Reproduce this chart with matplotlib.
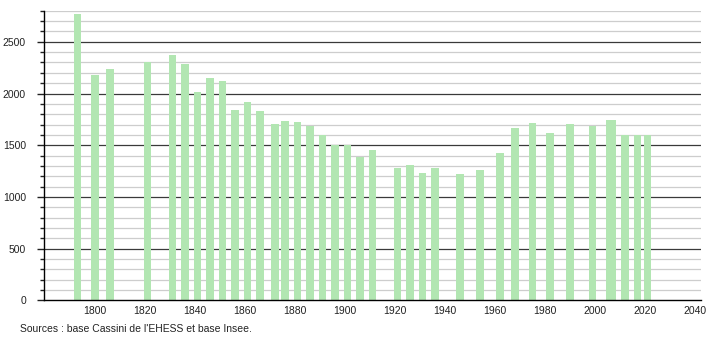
import matplotlib
matplotlib.use("Agg")
import matplotlib.pyplot as plt
from matplotlib.ticker import MultipleLocator

years = [1793, 1800, 1806, 1821, 1831, 1836, 1841, 1846, 1851, 1856, 1861, 1866,
         1872, 1876, 1881, 1886, 1891, 1896, 1901, 1906, 1911, 1921, 1926, 1931,
         1936, 1946, 1954, 1962, 1968, 1975, 1982, 1990, 1999, 2006, 2007, 2012,
         2017, 2021]
population = [2765, 2180, 2238, 2302, 2374, 2290, 2018, 2154, 2125, 1844, 1919, 1834,
              1708, 1734, 1725, 1689, 1597, 1502, 1502, 1386, 1456, 1282, 1305, 1233,
              1282, 1224, 1263, 1421, 1670, 1718, 1621, 1708, 1689, 1745, 1745, 1599,
              1599, 1599]
x_ticks = [1800, 1820, 1840, 1860, 1880, 1900, 1920, 1940, 1960, 1980, 2000, 2020, 2040]
y_ticks = [0, 500, 1000, 1500, 2000, 2500]
source_text = "Sources : base Cassini de l'EHESS et base Insee."

plt.rcParams['font.family'] = ['Liberation Sans', 'DejaVu Sans']

W, H = 710, 340
fig = plt.figure(figsize=(W / 100, H / 100), dpi=100)
left, right, bottom, top = 44, 701, 300.3, 10.8
ax = fig.add_axes([left / W, 1 - bottom / H, (right - left) / W, (bottom - top) / H])

ax.set_xlim(1779.6, 2042.4)
ax.set_ylim(0, 2800)

# grid lines
for v in range(100, 2801, 100):
    if v % 500 == 0:
        ax.axhline(v, color='#3a3a3a', lw=0.9, zorder=1)
    else:
        ax.axhline(v, color='#cdcdcd', lw=0.9, zorder=1)

ax.bar(years, population, width=3.1, color='#b2e6b2', zorder=2, linewidth=0)

ax.set_xticks(x_ticks)
ax.set_xticklabels([str(t) for t in x_ticks])
ax.set_yticks(y_ticks)
ax.set_yticklabels([str(t) for t in y_ticks])
ax.yaxis.set_minor_locator(MultipleLocator(100))
ax.tick_params(axis='x', length=0, labelsize=7.5, pad=4, colors='#222222')
ax.tick_params(axis='y', which='major', length=5, width=1, labelsize=7.5, pad=8, colors='#222222')
ax.tick_params(axis='y', which='minor', length=3, width=1, colors='#222222')
for lab in ax.get_xticklabels() + ax.get_yticklabels():
    lab.set_color('#222222')

for s in ['top', 'right']:
    ax.spines[s].set_visible(False)
ax.spines['left'].set_color('#000000')
ax.spines['bottom'].set_color('#000000')
ax.spines['left'].set_linewidth(1)
ax.spines['bottom'].set_linewidth(1)
ax.spines['left'].set_zorder(3)
ax.spines['bottom'].set_zorder(3)

fig.text(20.5 / W, 1 - 329 / H, source_text, fontsize=7.5, color='#222222',
         ha='left', va='center')

fig.savefig('out.png', dpi=100)
